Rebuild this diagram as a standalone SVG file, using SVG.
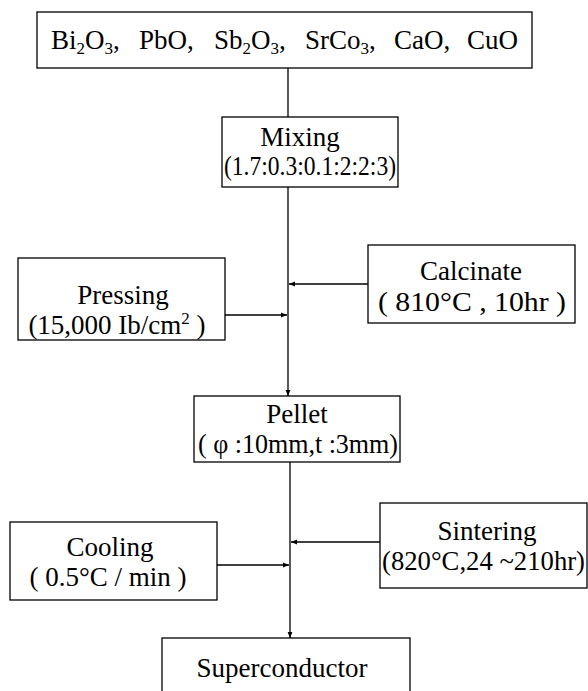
<svg xmlns="http://www.w3.org/2000/svg" width="588" height="691" viewBox="0 0 588 691">
<style>
.box{fill:#fff;stroke:#000;stroke-width:1.3}
.t{font-family:"Liberation Serif","Times New Roman",serif;font-size:27px;fill:#000}
.c{text-anchor:middle}
.s{font-size:17px}
.ln{stroke:#000;stroke-width:1.3;fill:none}
</style>
<defs>
<marker id="ah" viewBox="0 0 10 10" refX="10" refY="5" markerWidth="10" markerHeight="6" orient="auto" markerUnits="userSpaceOnUse">
<path d="M0,1 L10,5 L0,9 Z" fill="#000"/>
</marker>
</defs>
<g id="connectors">
<line class="ln" x1="288" y1="68" x2="288" y2="117"/>
<line class="ln" x1="288" y1="187" x2="288" y2="396" marker-end="url(#ah)"/>
<line class="ln" x1="368" y1="284" x2="289" y2="284" marker-end="url(#ah)"/>
<line class="ln" x1="225" y1="315" x2="287" y2="315" marker-end="url(#ah)"/>
<line class="ln" x1="290" y1="462" x2="290" y2="638" marker-end="url(#ah)"/>
<line class="ln" x1="380" y1="542" x2="291" y2="542" marker-end="url(#ah)"/>
<line class="ln" x1="217" y1="565" x2="289" y2="565" marker-end="url(#ah)"/>
</g>
<g id="raw">
<rect class="box" x="37" y="12" width="495" height="56"/>
<text class="t" y="49"><tspan x="51">Bi</tspan><tspan class="s" dy="5">2</tspan><tspan dy="-5">O</tspan><tspan class="s" dy="5">3</tspan><tspan dy="-5">,</tspan><tspan x="139">PbO,</tspan><tspan x="214">Sb</tspan><tspan class="s" dy="5">2</tspan><tspan dy="-5">O</tspan><tspan class="s" dy="5">3</tspan><tspan dy="-5">,</tspan><tspan x="305">SrCo</tspan><tspan class="s" dy="5">3</tspan><tspan dy="-5">,</tspan><tspan x="394">CaO,</tspan><tspan x="467">CuO</tspan></text>
</g>
<g id="mixing">
<rect class="box" x="222" y="117" width="176" height="70"/>
<text class="t c" x="300" y="146">Mixing</text>
<text class="t c" x="310" y="175" textLength="172" lengthAdjust="spacingAndGlyphs">(1.7:0.3:0.1:2:2:3)</text>
</g>
<g id="calcinate">
<rect class="box" x="368" y="245" width="207" height="78"/>
<text class="t c" x="471" y="280">Calcinate</text>
<text class="t c" x="472" y="311" textLength="188" lengthAdjust="spacingAndGlyphs">( 810°C , 10hr   )</text>
</g>
<g id="pressing">
<rect class="box" x="18" y="258" width="207" height="82"/>
<text class="t c" x="123" y="304">Pressing</text>
<text class="t c" x="117" y="334">(15,000 Ib/cm<tspan class="s" dy="-10">2</tspan><tspan dy="10"> )</tspan></text>
</g>
<g id="pellet">
<rect class="box" x="194" y="396" width="206" height="66"/>
<text class="t c" x="297" y="423" font-size="26">Pellet</text>
<text class="t" x="198" y="453" font-size="26" textLength="200" lengthAdjust="spacingAndGlyphs">( φ :10mm,t :3mm)</text>
</g>
<g id="sintering">
<rect class="box" x="380" y="503" width="207" height="85"/>
<text class="t c" x="487" y="540">Sintering</text>
<text class="t" x="382" y="570" textLength="203" lengthAdjust="spacingAndGlyphs">(820°C,24 ~210hr)</text>
</g>
<g id="cooling">
<rect class="box" x="10" y="522" width="207" height="78"/>
<text class="t c" x="110" y="556">Cooling</text>
<text class="t c" x="108" y="586">( 0.5°C / min )</text>
</g>
<g id="superconductor">
<rect class="box" x="162" y="638" width="248" height="60"/>
<text class="t c" x="282" y="677" font-size="30">Superconductor</text>
</g>
</svg>
